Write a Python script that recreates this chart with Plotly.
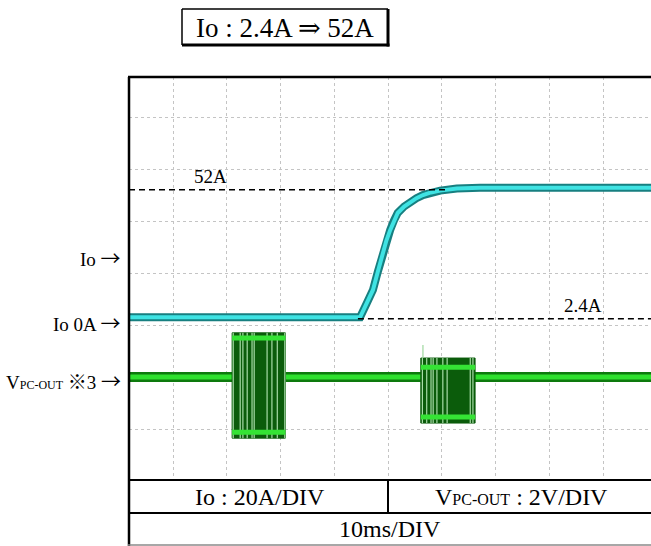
import plotly.graph_objects as go

# ---- canvas / plot area (pixels) ----
W, H = 651, 546
PL, PR, PT, PB = 129, 651, 77, 480          # plot area edges
SERIF = "Liberation Serif, Times New Roman, DejaVu Serif, Noto Sans CJK JP, serif"
ARROW = "<span style='font-family:Noto Sans CJK JP;font-size:20px'>→</span>"

# ---- axes: 10 ms/div, Io 20 A/div, VPC-OUT 2 V/div ----
t_range = [1.81, 98.93]
io_range = [-59.6, 95.4]
v_range = [-3.96, 11.54]

# ---- Io trace (ms, A) ----
io_t = [1.81, 10.0, 20.0, 30.0, 40.0, 44.8, 46.0, 47.2, 48.1, 49.0, 49.7,
        50.4, 51.1, 51.8, 53.0, 54.1, 55.3, 56.5, 58.0, 59.7, 62.8, 67.1,
        80.0, 98.93]
io_a = [3.0, 3.0, 3.0, 3.0, 3.0, 3.0, 8.2, 13.5, 20.5, 27.7, 32.5,
        36.5, 40.2, 43.1, 45.6, 47.3, 48.8, 50.0, 51.0, 51.7, 52.5, 52.8,
        52.8, 52.8]

# ---- VPC-OUT trace (ms, V) ----
vpc_t = [1.81, 98.93]
vpc_v = [0.0, 0.0]

# switching bursts on VPC-OUT
burst_start = [21.0, 56.1]
burst_end = [30.9, 66.2]
burst_top = [1.70, 0.73]
burst_high = [1.50, 0.38]
burst_low = [-2.12, -1.54]
burst_bottom = [-2.35, -1.77]
burst1_streaks = [21.2, 22.5, 23.0, 23.8, 24.7, 25.1, 27.5, 28.4, 29.4, 30.8]
burst2_streaks = [56.4, 57.2, 58.0, 58.4, 59.1, 60.2, 61.0, 65.3, 65.8]
spike_t = [56.5]
spike_v = [1.23]

# ---- reference levels ----
ref_level = [52.0, 2.4]
ref_label = ["52A", "2.4A"]
ref_t0 = [1.81, 44.4]
ref_t1 = [61.0, 98.93]
ref_label_t = [16.9, 86.3]


def px(x):
    return (x - PL) / (PR - PL)


def py(y):
    return (PB - y) / (PB - PT)


fig = go.Figure()

# Io: dark edge then cyan core
fig.add_trace(go.Scatter(x=io_t, y=io_a, mode="lines", yaxis="y",
                         line=dict(color="#177f80", width=8), hoverinfo="skip"))
fig.add_trace(go.Scatter(x=io_t, y=io_a, mode="lines", yaxis="y",
                         line=dict(color="#3fe3e3", width=4), hoverinfo="skip"))

# VPC-OUT baseline
fig.add_trace(go.Scatter(x=vpc_t, y=vpc_v, mode="lines", yaxis="y2",
                         line=dict(color="#0d7a0d", width=10), hoverinfo="skip"))
fig.add_trace(go.Scatter(x=vpc_t, y=vpc_v, mode="lines", yaxis="y2",
                         line=dict(color="#2ee02e", width=5), hoverinfo="skip"))

# bursts
streak_sets = [burst1_streaks, burst2_streaks]
for i in range(len(burst_start)):
    t0, t1 = burst_start[i], burst_end[i]
    fig.add_trace(go.Scatter(
        x=[t0, t1, t1, t0, t0],
        y=[burst_top[i], burst_top[i], burst_bottom[i], burst_bottom[i], burst_top[i]],
        mode="lines", fill="toself", fillcolor="#0b5c0b", yaxis="y2",
        line=dict(color="#0b5c0b", width=1), hoverinfo="skip"))
    sx, sy = [], []
    for s in streak_sets[i]:
        sx += [s, s, None]
        sy += [burst_bottom[i], burst_top[i], None]
    fig.add_trace(go.Scatter(x=sx, y=sy, mode="lines", yaxis="y2",
                             line=dict(color="#a8dca8", width=1.2), hoverinfo="skip"))
    for lvl in (burst_high[i], burst_low[i]):
        fig.add_trace(go.Scatter(x=[t0, t1], y=[lvl, lvl], mode="lines", yaxis="y2",
                                 line=dict(color="#35e335", width=5), hoverinfo="skip"))
for st, sv in zip(spike_t, spike_v):
    fig.add_trace(go.Scatter(x=[st, st], y=[burst_top[1], sv], mode="lines", yaxis="y2",
                             line=dict(color="#9fd89f", width=1.2), hoverinfo="skip"))

# dashed reference levels
for lvl, a, b in zip(ref_level, ref_t0, ref_t1):
    fig.add_trace(go.Scatter(x=[a, b], y=[lvl, lvl], mode="lines", yaxis="y",
                             line=dict(color="black", width=1.5, dash="6px,4px"),
                             hoverinfo="skip"))

annotations = []
for lvl, lab, lt in zip(ref_level, ref_label, ref_label_t):
    annotations.append(dict(x=lt, y=lvl, xref="x", yref="y", text=lab,
                            showarrow=False, xanchor="center", yanchor="bottom",
                            yshift=1,
                            font=dict(family=SERIF, size=19, color="black")))


def paper_text(txt, x, y, size, xanchor="center"):
    return dict(x=px(x), y=py(y), xref="paper", yref="paper", text=txt,
                showarrow=False, xanchor=xanchor, yanchor="middle",
                font=dict(family=SERIF, size=size, color="black"))


# left-side channel markers
annotations.append(paper_text("Io " + ARROW, 123, 257, 19, "right"))
annotations.append(paper_text("Io 0A " + ARROW, 123, 322, 19, "right"))
annotations.append(paper_text(
    "V<span style='font-size:12px'>PC-OUT</span> ※3 " + ARROW, 123, 380, 19, "right"))

# title box text
annotations.append(paper_text("Io : 2.4A ⇒ 52A", 285, 28, 27))

# table texts
annotations.append(paper_text("Io : 20A/DIV", 260, 497, 24))
annotations.append(paper_text(
    "V<span style='font-size:16px'>PC-OUT</span> : 2V/DIV", 521, 497, 24))
annotations.append(paper_text("10ms/DIV", 390, 529, 24))


def hline(y, x0, x1, w, c="black"):
    return dict(type="line", xref="paper", yref="paper", x0=px(x0), x1=px(x1),
                y0=py(y), y1=py(y), line=dict(color=c, width=w), layer="above")


def vline(x, y0, y1, w, c="black"):
    return dict(type="line", xref="paper", yref="paper", x0=px(x), x1=px(x),
                y0=py(y0), y1=py(y1), line=dict(color=c, width=w), layer="above")


shapes = [
    vline(129, 77, 546, 2.5),
    hline(77, 128, 651, 2.5),
    hline(480, 128, 651, 2),
    hline(513, 128, 651, 2),
    hline(545, 128, 651, 1.5, "#8a8a8a"),
    vline(388, 480, 513, 2),
    # title box with heavier right/bottom edge
    hline(9, 182, 388, 1.5),
    vline(182, 9, 45, 1.5),
    hline(45, 182, 389.5, 3),
    vline(388, 9, 46.5, 3),
]

grid = dict(showgrid=True, gridcolor="#c4c4c4", griddash="dot", gridwidth=1,
            zeroline=False, showticklabels=False, ticks="", showline=False)

fig.update_layout(
    width=W, height=H,
    margin=dict(l=PL, r=W - PR, t=PT, b=H - PB, pad=0),
    paper_bgcolor="white", plot_bgcolor="white",
    showlegend=False,
    xaxis=dict(range=t_range, tick0=0, dtick=10, **grid),
    yaxis=dict(range=io_range, tick0=0, dtick=20, **grid),
    yaxis2=dict(range=v_range, overlaying="y", showgrid=False, zeroline=False,
                showticklabels=False, ticks=""),
    annotations=annotations,
    shapes=shapes,
)

fig.write_html("out.html")
